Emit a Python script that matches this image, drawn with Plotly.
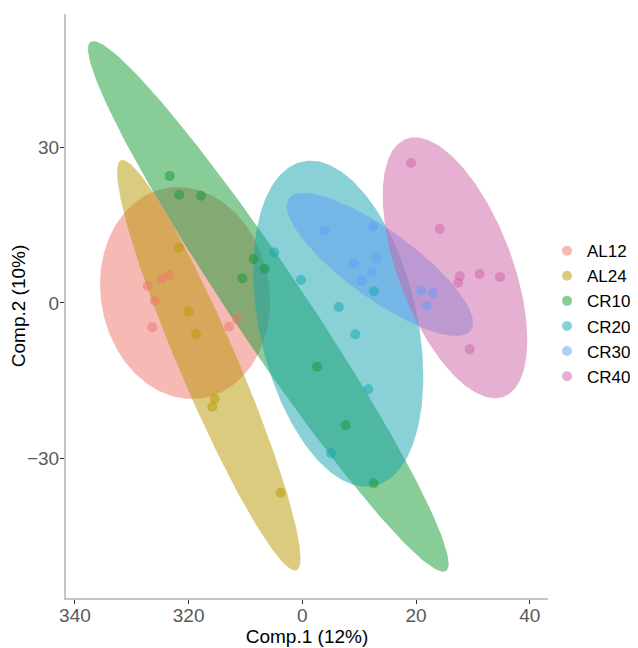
import numpy as np
import plotly.graph_objects as go

# ---------------- data ----------------
groups = ["AL12", "AL24", "CR10", "CR20", "CR30", "CR40"]

comp1 = {
    "AL12": [-26.39, -12.89, -11.49, -24.73, -23.40, -27.19, -25.96],
    "AL24": [-21.74, -19.98, -18.70, -15.41, -15.83, -3.80],
    "CR10": [-23.32, -21.64, -17.82, -8.55, -6.61, -10.55, 2.59, 7.63, 12.56],
    "CR20": [-4.93, -0.23, 6.40, 9.32, 11.61, 5.05, 12.61],
    "CR30": [3.94, 12.44, 13.02, 8.97, 12.31, 10.45, 20.88, 22.94, 21.88],
    "CR40": [19.12, 24.17, 27.69, 27.44, 31.21, 34.78, 29.45],
}
comp2 = {
    "AL12": [-4.68, -4.57, -3.03, 4.68, 5.34, 3.28, 0.44],
    "AL24": [10.66, -1.68, -5.92, -18.44, -19.98, -36.55],
    "CR10": [24.47, 20.87, 20.67, 8.48, 6.61, 4.76, -12.27, -23.56, -34.74],
    "CR20": [9.73, 4.43, -0.77, -6.03, -16.63, -28.96, 2.25],
    "CR30": [13.93, 14.70, 8.54, 7.65, 5.97, 4.24, 2.37, 1.98, -0.52],
    "CR40": [26.97, 14.26, 5.14, 3.91, 5.59, 5.01, -8.92],
}

# confidence-ellipse parameters per group (centre, half-extents, correlation)
ell_cx = [-20.63, -16.45, -5.98, 6.33, 13.65, 26.86]
ell_cy = [1.93, -12.00, -0.67, -3.99, 7.42, 6.78]
ell_sx = [14.95, 16.13, 31.72, 14.95, 16.39, 12.72]
ell_sy = [20.42, 39.56, 51.12, 31.41, 13.78, 25.14]
ell_r = [-0.08, -0.94, -0.97, -0.327, -0.818, -0.553]

x_tickvals = [-40, -20, 0, 20, 40]
x_ticktext = ["340", "320", "0", "20", "40"]
y_tickvals = [30, 0, -30]
y_ticktext = ["30", "0", "\u221230"]

colors = [(237, 115, 105), (183, 151, 0), (17, 153, 49),
          (19, 163, 173), (95, 157, 246), (205, 97, 165)]

# ---------------- figure ----------------
fig = go.Figure()
t = np.linspace(0, 2 * np.pi, 240)
for i, g in enumerate(groups):
    r = ell_r[i]
    ex = ell_cx[i] + ell_sx[i] * np.cos(t)
    ey = ell_cy[i] + ell_sy[i] * (r * np.cos(t) + np.sqrt(1 - r * r) * np.sin(t))
    c = colors[i]
    fig.add_trace(go.Scatter(
        x=ex, y=ey, mode="lines", fill="toself",
        fillcolor=f"rgba({c[0]},{c[1]},{c[2]},0.5)",
        line=dict(width=0), hoverinfo="skip", showlegend=False))

for i, g in enumerate(groups):
    c = colors[i]
    fig.add_trace(go.Scatter(
        x=comp1[g], y=comp2[g], mode="markers", name=g,
        marker=dict(size=10, color=f"rgb({c[0]},{c[1]},{c[2]})", opacity=0.5,
                    line=dict(width=0))))

font_family = "Liberation Sans, Arial, sans-serif"
# the page body has an 8px default margin, so the figure is 8px smaller
fig.update_layout(
    width=630, height=640,
    margin=dict(l=58, r=90, t=6, b=50, autoexpand=False),
    paper_bgcolor="white", plot_bgcolor="white",
    font=dict(family=font_family, size=19, color="black"),
    legend=dict(x=0.998, xanchor="left", y=0.487, yanchor="middle",
                font=dict(size=17, color="black"), tracegroupgap=0,
                itemwidth=30, bgcolor="rgba(0,0,0,0)"),
    xaxis=dict(range=[-41.57, 43.22], tickvals=x_tickvals, ticktext=x_ticktext,
               automargin=False, ticklabelstandoff=-5,
               showgrid=False, zeroline=False, showline=True, linecolor="#C4C4C4",
               linewidth=2, ticks="outside", ticklen=4, tickcolor="#333333",
               tickfont=dict(size=19, color="#595959"),
               title=dict(text="Comp.1 (12%)", font=dict(size=19, color="black"), standoff=2)),
    yaxis=dict(range=[-56.84, 55.68], tickvals=y_tickvals, ticktext=y_ticktext,
               automargin=False, ticklabelstandoff=-3,
               showgrid=False, zeroline=False, showline=True, linecolor="#C4C4C4",
               linewidth=2, ticks="outside", ticklen=4, tickcolor="#333333",
               tickfont=dict(size=19, color="#595959"),
               title=dict(text="Comp.2 (10%)", font=dict(size=19, color="black"), standoff=4)),
)

fig.write_html("out.html")
